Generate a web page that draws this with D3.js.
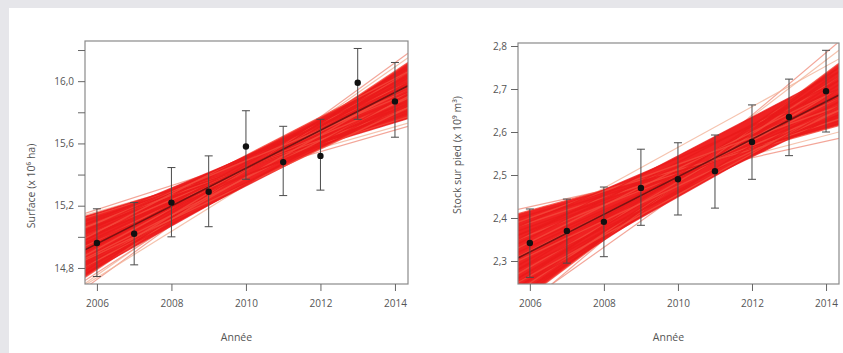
<!DOCTYPE html>
<html>
<head>
<meta charset="utf-8">
<script src="https://cdn.jsdelivr.net/npm/d3@7"></script>
<style>
  body { margin: 0; background: #e6e6ea; }
  svg { display: block; }
  .tick-label { font-family: "Open Sans", sans-serif; font-size: 10px; fill: #555; }
  .axis-title { font-family: "Open Sans", sans-serif; font-size: 10.5px; fill: #555; }
</style>
</head>
<body>
<svg id="chart" width="843" height="353"></svg>
<script>
// years observed
const years = [2006, 2007, 2008, 2009, 2010, 2011, 2012, 2013, 2014];

// Surface (x 10^6 ha)
const surfaceMean = [14.96, 15.02, 15.22, 15.29, 15.58, 15.48, 15.52, 15.99, 15.87];
const surfaceLow  = [14.745, 14.82, 15.00, 15.065, 15.37, 15.265, 15.30, 15.755, 15.64];
const surfaceHigh = [15.18, 15.22, 15.445, 15.52, 15.81, 15.71, 15.755, 16.21, 16.12];
const surfaceFit  = [14.916, 15.97];   // at left / right edge of plot
// posterior sample lines [value at left edge, value at right edge]
const surfaceSamples = [
  [14.74,16.12],[14.76,16.10],[14.78,16.08],[14.80,16.06],[14.83,16.04],[14.86,16.02],
  [14.88,16.00],[14.90,15.99],[14.92,15.97],[14.94,15.95],[14.96,15.93],[14.98,15.91],
  [15.00,15.89],[15.02,15.87],[15.04,15.85],[15.06,15.83],[15.08,15.81],[15.10,15.79],
  [15.12,15.77],[15.13,15.76],[14.84,16.09],[14.80,15.97],[14.98,16.03],[15.03,15.98],
  [14.86,15.90],[14.95,15.84],[14.90,16.06],[15.06,15.92],[14.82,15.88],[15.00,15.80],
  [14.99,16.06],[15.04,16.00],[14.80,15.86],[14.85,15.83],[15.08,15.95],[14.76,15.92]
];
const surfaceOuter = [
  [14.67,16.18],[14.70,16.15],[14.72,16.05],[15.14,15.73],[15.11,15.71],[14.69,15.98],[15.15,15.82]
];
const surfaceTicks = [14.8, 15.0, 15.2, 15.4, 15.6, 15.8, 16.0, 16.2];
const surfaceLabels = [14.8, 15.2, 15.6, 16.0];

// Stock sur pied (x 10^9 m3)
const stockMean = [2.342, 2.370, 2.391, 2.470, 2.490, 2.509, 2.577, 2.635, 2.695];
const stockLow  = [2.262, 2.295, 2.310, 2.383, 2.407, 2.423, 2.490, 2.545, 2.600];
const stockHigh = [2.421, 2.444, 2.472, 2.560, 2.575, 2.593, 2.663, 2.723, 2.790];
const stockFit  = [2.307, 2.686];
const stockSamples = [
  [2.20,2.76],[2.21,2.75],[2.22,2.74],[2.23,2.73],[2.24,2.72],[2.26,2.71],[2.27,2.70],
  [2.29,2.69],[2.30,2.685],[2.31,2.68],[2.32,2.67],[2.33,2.66],[2.35,2.65],[2.36,2.64],
  [2.37,2.635],[2.38,2.63],[2.39,2.625],[2.40,2.62],[2.41,2.615],[2.25,2.75],[2.28,2.73],
  [2.33,2.70],[2.36,2.68],[2.26,2.67],[2.30,2.65],[2.34,2.72],[2.22,2.70],[2.39,2.66],[2.28,2.64],
  [2.35,2.74],[2.25,2.66],[2.38,2.70],[2.24,2.66]
];
const stockOuter = [
  [2.18,2.81],[2.22,2.79],[2.42,2.585],[2.405,2.60],[2.19,2.72],[2.36,2.77]
];
const stockTicks = [2.3, 2.4, 2.5, 2.6, 2.7, 2.8];
const stockLabels = [2.3, 2.4, 2.5, 2.6, 2.7, 2.8];

const yearTicks = [2006, 2008, 2010, 2012, 2014];

const svg = d3.select("#chart");

// white panel over grey frame
svg.append("rect").attr("x", 9).attr("y", 8).attr("width", 843 - 9).attr("height", 353 - 8).attr("fill", "#fff");

const fmt = v => d3.format(".1f")(v).replace(".", ",");

function drawPanel(p) {
  const x = d3.scaleLinear().domain([2005.68, 2014.35]).range([p.left, p.right]);
  const y = d3.scaleLinear().domain(p.yDomain).range([p.bottom, p.top]);
  const g = svg.append("g");
  const clipId = "clip-" + p.id;
  g.append("clipPath").attr("id", clipId)
    .append("rect").attr("x", p.left).attr("y", p.top)
    .attr("width", p.right - p.left).attr("height", p.bottom - p.top);

  const band = g.append("g").attr("clip-path", `url(#${clipId})`);
  const [x0, x1] = x.domain();

  // lighter outer sample lines
  band.selectAll("line.outer").data(p.outer).enter().append("line")
    .attr("x1", x(x0)).attr("x2", x(x1))
    .attr("y1", d => y(d[0])).attr("y2", d => y(d[1]))
    .attr("stroke", (d, i) => i % 2 ? "#f3b49a" : "#f09080")
    .attr("stroke-width", 1.2)
    .attr("stroke-opacity", 0.8);

  // envelope of the red sample lines
  const steps = d3.range(0, 61).map(i => i / 60);
  const env = steps.map(t => {
    const vals = p.samples.map(s => s[0] + (s[1] - s[0]) * t);
    return { t: t, lo: d3.min(vals), hi: d3.max(vals) };
  });
  band.append("path").datum(env)
    .attr("fill", "#f02222")
    .attr("d", d3.area()
      .x(d => x(x0 + (x1 - x0) * d.t))
      .y0(d => y(d.lo)).y1(d => y(d.hi)));

  band.selectAll("line.sample").data(p.samples).enter().append("line")
    .attr("x1", x(x0)).attr("x2", x(x1))
    .attr("y1", d => y(d[0])).attr("y2", d => y(d[1]))
    .attr("stroke", (d, i) => i % 3 === 0 ? "#f44a3c" : "#ea1a1a")
    .attr("stroke-width", 1.4)
    .attr("stroke-opacity", 0.8);

  // fitted line
  band.append("line")
    .attr("x1", x(x0)).attr("x2", x(x1))
    .attr("y1", y(p.fit[0])).attr("y2", y(p.fit[1]))
    .attr("stroke", "#7a1212").attr("stroke-width", 1.6);

  // error bars
  const eb = g.append("g").attr("clip-path", `url(#${clipId})`)
    .attr("stroke", "#4a4a4a").attr("stroke-width", 1);
  years.forEach((yr, i) => {
    const cx = x(yr);
    eb.append("line").attr("x1", cx).attr("x2", cx).attr("y1", y(p.low[i])).attr("y2", y(p.high[i]));
    eb.append("line").attr("x1", cx - 4).attr("x2", cx + 4).attr("y1", y(p.high[i])).attr("y2", y(p.high[i]));
    eb.append("line").attr("x1", cx - 4).attr("x2", cx + 4).attr("y1", y(p.low[i])).attr("y2", y(p.low[i]));
  });

  g.selectAll("circle.pt").data(years).enter().append("circle")
    .attr("cx", d => x(d)).attr("cy", (d, i) => y(p.mean[i]))
    .attr("r", 3.2).attr("fill", "#111");

  // box
  g.append("rect").attr("x", p.left).attr("y", p.top)
    .attr("width", p.right - p.left).attr("height", p.bottom - p.top)
    .attr("fill", "none").attr("stroke", "#8a8a8a").attr("stroke-width", 1.2);

  // y axis
  const yAxis = d3.axisLeft(y).tickValues(p.ticks).tickSize(7).tickPadding(4)
    .tickFormat(d => p.labels.some(l => Math.abs(l - d) < 1e-9) ? fmt(d) : "");
  const ya = g.append("g").attr("transform", `translate(${p.left},0)`).call(yAxis);
  ya.select(".domain").remove();
  ya.selectAll(".tick line").attr("stroke", "#666");
  ya.selectAll(".tick text").attr("class", "tick-label").attr("fill", null);

  // x axis
  const xAxis = d3.axisBottom(x).tickValues(yearTicks).tickSize(7).tickPadding(9).tickFormat(d3.format("d"));
  const xa = g.append("g").attr("transform", `translate(0,${p.bottom})`).call(xAxis);
  xa.select(".domain").remove();
  xa.selectAll(".tick line").attr("stroke", "#666");
  xa.selectAll(".tick text").attr("class", "tick-label").attr("fill", null);

  g.append("text").attr("class", "axis-title")
    .attr("x", (p.left + p.right) / 2 - 10).attr("y", 341)
    .attr("text-anchor", "middle").text("Année");
  g.append("text").attr("class", "axis-title")
    .attr("transform", `translate(${p.yTitleX},${p.yTitleY}) rotate(-90)`)
    .attr("text-anchor", "middle").text(p.yTitle);
}

drawPanel({
  id: "surface", left: 85, right: 408, top: 41, bottom: 284,
  yDomain: [14.697, 16.258],
  mean: surfaceMean, low: surfaceLow, high: surfaceHigh, fit: surfaceFit,
  samples: surfaceSamples, outer: surfaceOuter,
  ticks: surfaceTicks, labels: surfaceLabels,
  yTitle: "Surface (x 10\u2076 ha)", yTitleX: 35, yTitleY: 186
});

drawPanel({
  id: "stock", left: 518, right: 839, top: 43, bottom: 284,
  yDomain: [2.2465, 2.807],
  mean: stockMean, low: stockLow, high: stockHigh, fit: stockFit,
  samples: stockSamples, outer: stockOuter,
  ticks: stockTicks, labels: stockLabels,
  yTitle: "Stock sur pied (x 10\u2079 m\u00b3)", yTitleX: 461, yTitleY: 155
});
</script>
</body>
</html>
